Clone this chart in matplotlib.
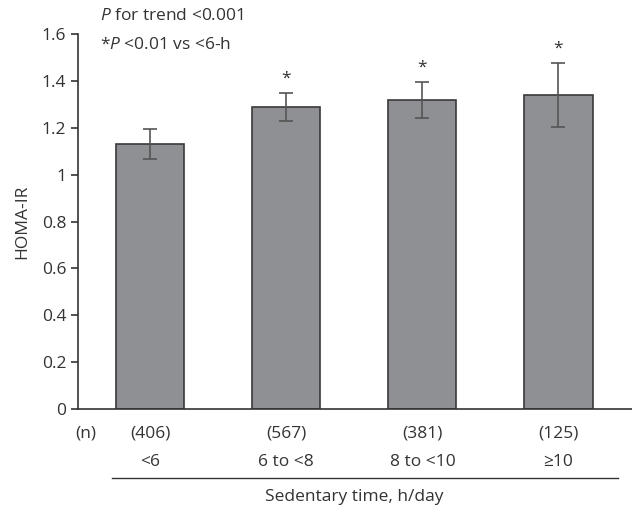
import matplotlib
matplotlib.use('Agg')
import matplotlib.pyplot as plt

categories = ['<6', '6 to <8', '8 to <10', '\u226510']
counts = ['(406)', '(567)', '(381)', '(125)']
homa = [1.13, 1.29, 1.32, 1.34]
err = [0.063, 0.06, 0.077, 0.137]
signif = ['', '*', '*', '*']
yticks = [0, 0.2, 0.4, 0.6, 0.8, 1, 1.2, 1.4, 1.6]
ytick_labels = ['0', '0.2', '0.4', '0.6', '0.8', '1', '1.2', '1.4', '1.6']

plt.rcParams['font.family'] = ['Open Sans', 'DejaVu Sans']
plt.rcParams['mathtext.fontset'] = 'custom'
plt.rcParams['mathtext.rm'] = 'Open Sans'
plt.rcParams['mathtext.it'] = 'Open Sans:italic'
txt = '#333333'
fs = 12.5

fig = plt.figure(figsize=(6.32, 5.14), dpi=100)
ax = fig.add_axes([78/632, 1 - 409/514, (632-78)/632, (409-34)/514])

x = list(range(len(categories)))
ax.bar(x, homa, width=0.5, color='#8f9094', edgecolor='#3a3a3a', linewidth=1.2,
       yerr=err, error_kw=dict(ecolor='#555555', elinewidth=1.2, capsize=5, capthick=1.2))
for i, s in enumerate(signif):
    if s:
        ax.text(i, homa[i] + err[i] + 0.06, s, ha='center', va='center', fontsize=fs, color=txt)

ax.set_xlim(-0.53, 3.54)
ax.set_ylim(0, 1.6)
ax.set_yticks(yticks)
ax.set_yticklabels(ytick_labels, fontsize=fs, color=txt)
ax.set_xticks([])
for sp in ['top', 'right']:
    ax.spines[sp].set_visible(False)
for sp in ['left', 'bottom']:
    ax.spines[sp].set_color('#333333')
    ax.spines[sp].set_linewidth(1.2)
ax.tick_params(axis='y', length=5, width=1.2, color='#333333')
ax.set_ylabel('HOMA-IR', fontsize=fs, color=txt, labelpad=8)

# count row and category row below the axis
trans = ax.get_xaxis_transform()
ax.text(-0.47, -0.065, '(n)', transform=trans, ha='center', va='center', fontsize=fs, color=txt)
for i in x:
    ax.text(i, -0.065, counts[i], transform=trans, ha='center', va='center', fontsize=fs, color=txt)
    ax.text(i, -0.14, categories[i], transform=trans, ha='center', va='center', fontsize=fs, color=txt)
ax.plot([-0.28, 3.44], [-0.185, -0.185], transform=trans, color='#333333', lw=1, clip_on=False)
ax.text(1.5, -0.235, 'Sedentary time, h/day', transform=trans, ha='center', va='center',
        fontsize=fs, color=txt)

fig.text(100/632, 1 - 16/514, r'$\it{P}$ for trend <0.001', fontsize=fs, color=txt, va='center')
fig.text(100/632, 1 - 45/514, r'*$\it{P}$ <0.01 vs <6-h', fontsize=fs, color=txt, va='center')

fig.savefig('out.png', dpi=100)
